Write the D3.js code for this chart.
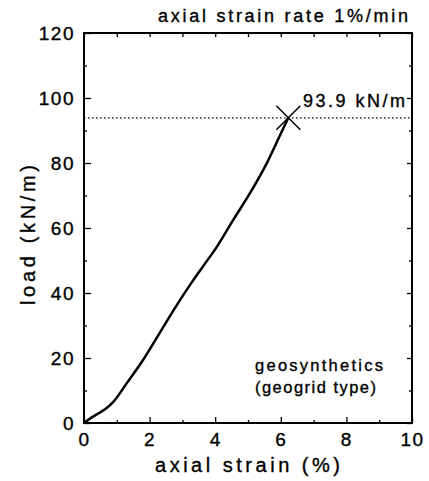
<!DOCTYPE html>
<html>
<head>
<meta charset="utf-8">
<script src="https://cdn.jsdelivr.net/npm/d3@7"></script>
<style>
  body { margin: 0; background: #fff; }
  svg text { font-family: "Liberation Sans", Arial, sans-serif; fill: #000; stroke: #000; stroke-width: 0.35px; }
</style>
</head>
<body>
<div id="chart"></div>
<script>
// load - strain curve
var strain = [0, 0.25, 0.5, 0.7, 0.9, 1.3, 1.8, 2.3, 2.8, 3.3, 3.7, 4.05, 4.55, 5.06, 5.57, 5.98, 6.23];
var load   = [0, 1.8, 3.3, 4.7, 6.6, 12.2, 19.4, 27.6, 35.8, 43.5, 49.2, 54.2, 62.5, 70.7, 79.9, 88.6, 93.9];
var peak = [6.23, 93.9];
var xTicks = [0, 2, 4, 6, 8, 10];
var xMinor = [1, 3, 5, 7, 9];
var yTicks = [0, 20, 40, 60, 80, 100, 120];
var yMinor = [10, 30, 50, 70, 90, 110];

var W = 429, H = 481;
var m = {left: 84, right: 17, top: 33, bottom: 58};
var w = W - m.left - m.right, h = H - m.top - m.bottom;

var svg = d3.select("#chart").append("svg")
    .attr("width", W).attr("height", H);
var g = svg.append("g").attr("transform", "translate(" + m.left + "," + m.top + ")");

var x = d3.scaleLinear().domain([0, 10]).range([0, w]);
var y = d3.scaleLinear().domain([0, 120]).range([h, 0]);

function styleAxis(sel, fs) {
    sel.select(".domain").remove();
    sel.selectAll("line").attr("stroke", "#000").attr("stroke-width", 1.3);
    sel.selectAll("text").style("font-size", fs + "px").style("letter-spacing", "1.5px")
        .attr("fill", "#000");
}

// bottom
g.append("g").attr("transform", "translate(0," + h + ")")
    .call(d3.axisBottom(x).tickValues(xTicks).tickSize(-6).tickPadding(10).tickFormat(d3.format("d")))
    .call(styleAxis, 19);
g.append("g").attr("transform", "translate(0," + h + ")")
    .call(d3.axisBottom(x).tickValues(xMinor).tickSize(-3).tickFormat(""))
    .call(styleAxis, 19);
// top
g.append("g")
    .call(d3.axisTop(x).tickValues(xTicks.concat(xMinor)).tickSize(-4).tickFormat(""))
    .call(styleAxis, 19);
// left
g.append("g")
    .call(d3.axisLeft(y).tickValues(yTicks).tickSize(-7).tickPadding(9).tickFormat(d3.format("d")))
    .call(styleAxis, 19);
g.append("g")
    .call(d3.axisLeft(y).tickValues(yMinor).tickSize(-3).tickFormat(""))
    .call(styleAxis, 19);
// right
g.append("g").attr("transform", "translate(" + w + ",0)")
    .call(d3.axisRight(y).tickValues(yTicks).tickSize(-5).tickFormat(""))
    .call(styleAxis, 19);
g.append("g").attr("transform", "translate(" + w + ",0)")
    .call(d3.axisRight(y).tickValues(yMinor).tickSize(-3).tickFormat(""))
    .call(styleAxis, 19);

// frame
g.append("rect").attr("width", w).attr("height", h)
    .attr("fill", "none").attr("stroke", "#000").attr("stroke-width", 2);

// dotted line at peak load
g.append("line")
    .attr("x1", 0).attr("x2", w)
    .attr("y1", y(peak[1])).attr("y2", y(peak[1]))
    .attr("stroke", "#000").attr("stroke-width", 1.2)
    .attr("stroke-dasharray", "1.5,2.5");

// curve
var pts = strain.map(function(d, i) { return [d, load[i]]; });
g.append("path").datum(pts)
    .attr("fill", "none").attr("stroke", "#000").attr("stroke-width", 2.5)
    .attr("stroke-linejoin", "round")
    .attr("d", d3.line().x(function(d) { return x(d[0]); }).y(function(d) { return y(d[1]); })
        .curve(d3.curveMonotoneX));

// peak marker
var px = x(peak[0]), py = y(peak[1]), s = 12;
g.append("path")
    .attr("d", "M" + (px - s) + "," + (py - s) + "L" + (px + s) + "," + (py + s) +
               "M" + (px - s) + "," + (py + s) + "L" + (px + s) + "," + (py - s))
    .attr("stroke", "#000").attr("stroke-width", 1.5);

// texts
svg.append("text").attr("x", 158).attr("y", 22)
    .attr("textLength", 250).attr("lengthAdjust", "spacing")
    .style("font-size", "18px").text("axial strain rate 1%/min");

svg.append("text").attr("x", 303).attr("y", 107)
    .attr("textLength", 102).attr("lengthAdjust", "spacing")
    .style("font-size", "18px").text("93.9 kN/m");

svg.append("text").attr("x", 255).attr("y", 371)
    .attr("textLength", 128).attr("lengthAdjust", "spacing")
    .style("font-size", "16.5px").text("geosynthetics");
svg.append("text").attr("x", 255).attr("y", 393)
    .attr("textLength", 121).attr("lengthAdjust", "spacing")
    .style("font-size", "16.5px").text("(geogrid type)");

svg.append("text").attr("x", 155).attr("y", 472)
    .attr("textLength", 185).attr("lengthAdjust", "spacing")
    .style("font-size", "20px").text("axial strain  (%)");

svg.append("text").attr("transform", "translate(35,305) rotate(-90)")
    .attr("textLength", 140).attr("lengthAdjust", "spacing")
    .style("font-size", "20px").text("load  (kN/m)");
</script>
</body>
</html>
